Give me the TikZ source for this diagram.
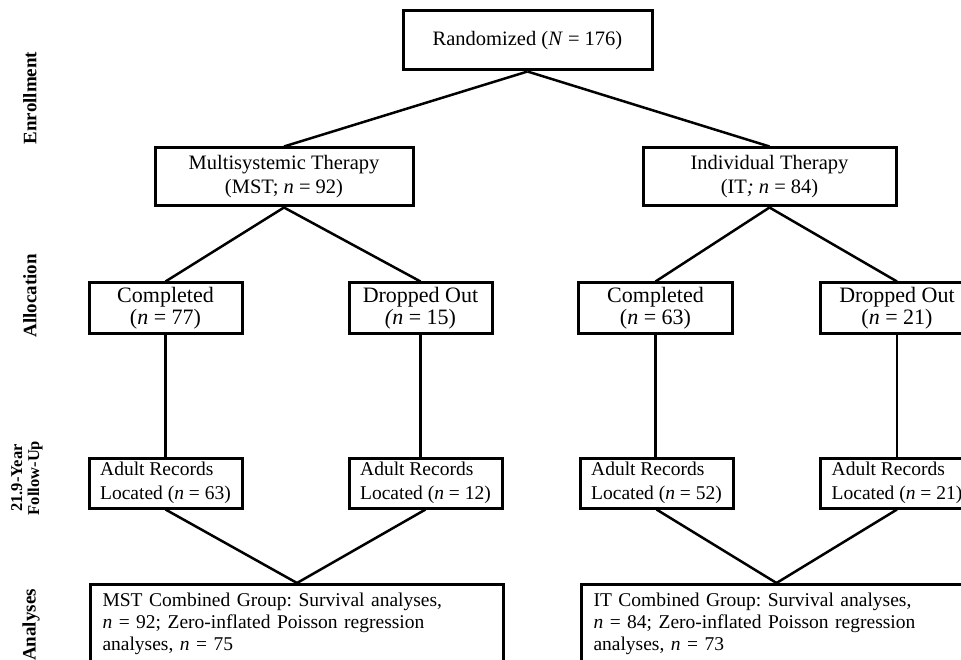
\documentclass[tikz,border=0pt]{standalone}
\usepackage{fontspec}
\setmainfont{Liberation Serif}
\frenchspacing
\begin{document}
\begin{tikzpicture}[x=1pt,y=-1pt,
  box/.style={draw, line width=3pt, inner sep=0pt, align=center},
  conn/.style={line width=2.5pt},
  lab/.style={rotate=90, font=\bfseries\fontsize{19}{17}\selectfont, align=center, inner sep=0pt},
  topf/.style={font=\fontsize{20.5}{24}\selectfont},
  allf/.style={font=\fontsize{22}{22}\selectfont},
  adf/.style={font=\fontsize{19.5}{24}\selectfont, align=left},
  combf/.style={font=\fontsize{19.5}{22}\selectfont, align=left, inner xsep=12pt, inner ysep=8.5pt}
]
\useasboundingbox (0,0) rectangle (961,660);
\clip (0,0) rectangle (961,660);

% stage labels
\node[lab] (l1) at (30,98) {Enrollment};
\node[lab] (l2) at (30,296) {Allocation};
\node[lab, font=\bfseries\fontsize{16.5}{17}\selectfont] (l3) at (27,478) {21.9-Year\\Follow-Up};
\node[lab, anchor=west] (l4) at (31,661) {Analyses};

% boxes
\node[box, topf, minimum width=249, minimum height=59] (rand) at (527.5,40.5) {Randomized (\textit{N} = 176)};
\node[box, topf, minimum width=258, minimum height=58] (mst) at (284,177) {Multisystemic Therapy\\(MST; \textit{n} = 92)};
\node[box, topf, minimum width=253, minimum height=58] (it) at (769.5,177) {Individual Therapy\\(IT\textit{; n} = 84)};

\node[box, allf, minimum width=153, minimum height=50] (mc) at (165.5,308) {Completed\\(\textit{n} = 77)};
\node[box, allf, minimum width=143, minimum height=50] (md) at (420.5,308) {Dropped Out\\\textit{(n} = 15)};
\node[box, allf, minimum width=154, minimum height=50] (ic) at (655.5,308) {Completed\\(\textit{n} = 63)};
\node[box, allf, minimum width=154, minimum height=50] (id) at (897,308) {Dropped Out\\(\textit{n} = 21)};

\node[box, adf, minimum width=153, minimum height=50] (ma) at (165.5,483) {Adult Records\\Located (\textit{n} = 63)};
\node[box, adf, minimum width=153, minimum height=50] (mb) at (425.5,483) {Adult Records\\Located (\textit{n} = 12)};
\node[box, adf, minimum width=153, minimum height=50] (ia) at (656.5,483) {Adult Records\\Located (\textit{n} = 52)};
\node[box, adf, minimum width=154, minimum height=50] (ib) at (897,483) {Adult Records\\Located (\textit{n} = 21)};

\node[box, combf, anchor=north west, text width=389] (mcomb) at (89,583) {MST Combined Group: Survival analyses,\\\textit{n} = 92; Zero-inflated Poisson regression\\analyses, \textit{n} = 75};
\node[box, combf, anchor=north west, text width=366] (icomb) at (580,583) {IT Combined Group: Survival analyses,\\\textit{n} = 84; Zero-inflated Poisson regression\\analyses, \textit{n} = 73};

% connectors
\draw[conn] (rand.south) -- (mst.north);
\draw[conn] (rand.south) -- (it.north);
\draw[conn] (mst.south) -- (mc.north);
\draw[conn] (mst.south) -- (md.north);
\draw[conn] (it.south) -- (ic.north);
\draw[conn] (it.south) -- (id.north);
\draw[conn] (mc.south) -- (mc.south |- ma.north);
\draw[conn] (md.south) -- (md.south |- mb.north);
\draw[conn] (ic.south) -- (ic.south |- ia.north);
\draw[conn] (id.south) -- (id.south |- ib.north);
\draw[conn] (ma.south) -- (mcomb.north);
\draw[conn] (mb.south) -- (mcomb.north);
\draw[conn] (ia.south) -- (icomb.north);
\draw[conn] (ib.south) -- (icomb.north);
\end{tikzpicture}
\end{document}
